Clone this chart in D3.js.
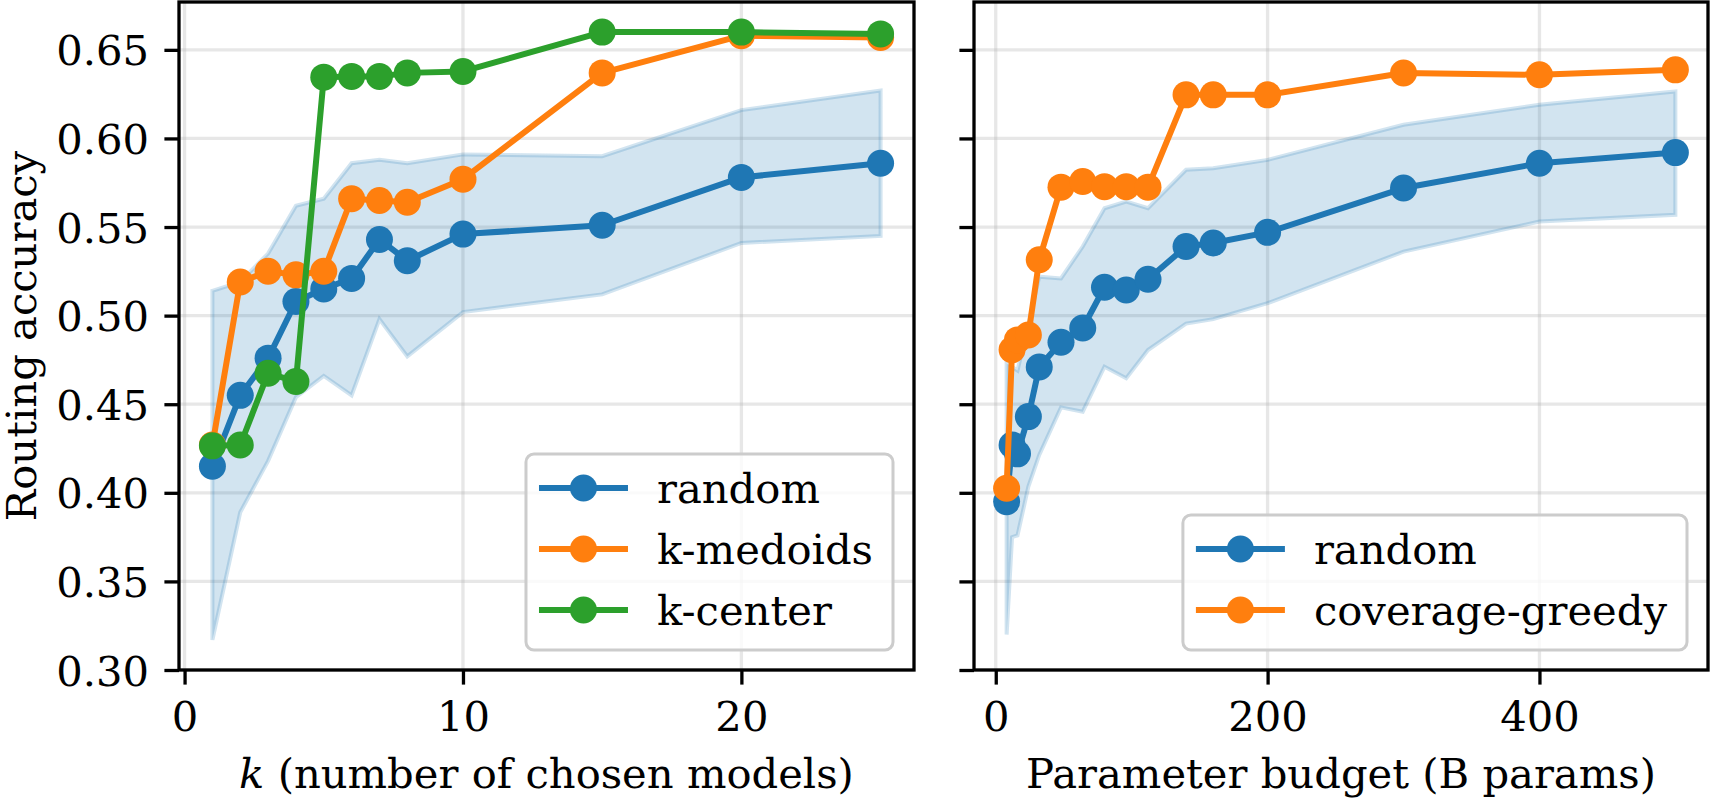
<!DOCTYPE html>
<html lang="en">
<head>
<meta charset="UTF-8">
<title>Routing accuracy</title>
<script src="https://d3js.org/d3.v7.min.js"></script>
<style>
  body { margin: 0; background: #fff; }
  svg { display: block; }
  text { font-family: "DejaVu Serif", serif; fill: #000; }
</style>
</head>
<body>
<svg id="chart" width="1711" height="798"></svg>
<script>
// ---- data ----
const kVals = [1, 2, 3, 4, 5, 6, 7, 8, 10, 15, 20, 25]
const kRandom = [0.415, 0.455, 0.476, 0.508, 0.515, 0.521, 0.543, 0.531, 0.546, 0.551, 0.578, 0.586]
const kRandomHi = [0.514, 0.519, 0.535, 0.562, 0.566, 0.586, 0.588, 0.586, 0.591, 0.590, 0.616, 0.627]
const kRandomLo = [0.317, 0.389, 0.418, 0.454, 0.466, 0.455, 0.498, 0.477, 0.502, 0.512, 0.541, 0.545]
const kMedoids = [0.427, 0.519, 0.525, 0.523, 0.525, 0.566, 0.565, 0.564, 0.577, 0.637, 0.658, 0.657]
const kCenter = [0.4265, 0.427, 0.4675, 0.4628, 0.6346, 0.635, 0.635, 0.637, 0.6378, 0.660, 0.660, 0.659]

const budgets = [8, 12, 16, 24, 32, 48, 64, 80, 96, 112, 140, 160, 200, 300, 400, 500]
const bRandom = [0.395, 0.427, 0.422, 0.443, 0.471, 0.485, 0.493, 0.516, 0.5145, 0.5205, 0.539, 0.541, 0.547, 0.572, 0.586, 0.592]
const bRandomHi = [0.473, 0.471, 0.469, 0.495, 0.522, 0.521, 0.539, 0.5606, 0.5644, 0.5606, 0.5823, 0.5832, 0.5879, 0.6077, 0.619, 0.6265]
const bRandomLo = [0.320, 0.375, 0.376, 0.4035, 0.4214, 0.4482, 0.4458, 0.4712, 0.4647, 0.4806, 0.4955, 0.498, 0.507, 0.5361, 0.5531, 0.5569]
const bGreedy = [0.4026, 0.4807, 0.4863, 0.4891, 0.5315, 0.5725, 0.5757, 0.5728, 0.5728, 0.5725, 0.6246, 0.6246, 0.6246, 0.6369, 0.6359, 0.6387]

const yTicks = [0.30, 0.35, 0.40, 0.45, 0.50, 0.55, 0.60, 0.65]
const kTicks = [0, 10, 20]
const bTicks = [0, 200, 400]

const BLUE = "#1f77b4", ORANGE = "#ff7f0e", GREEN = "#2ca02c"
const FS = 41.7

const svg = d3.select("#chart")
const plotTop = 2, plotBottom = 670

const y = d3.scaleLinear().domain([0.30, 0.677]).range([plotBottom, plotTop])

function panel(x0, x1, xDomain, xTicks, xLabel, band, series, showYLabels) {
    const x = d3.scaleLinear().domain(xDomain).range([x0, x1])
    const g = svg.append("g")

    // grid
    g.selectAll(".vgrid").data(xTicks).join("line")
        .attr("x1", d => x(d)).attr("x2", d => x(d))
        .attr("y1", plotTop).attr("y2", plotBottom)
        .attr("stroke", "#b0b0b0").attr("stroke-opacity", 0.3).attr("stroke-width", 3.3)
    g.selectAll(".hgrid").data(yTicks).join("line")
        .attr("x1", x0).attr("x2", x1)
        .attr("y1", d => y(d)).attr("y2", d => y(d))
        .attr("stroke", "#b0b0b0").attr("stroke-opacity", 0.3).attr("stroke-width", 3.3)

    // spread band for random
    const area = d3.area()
        .x(d => x(d.x)).y0(d => y(d.lo)).y1(d => y(d.hi))
    g.append("path")
        .datum(band.xs.map((v, i) => ({x: v, lo: band.lo[i], hi: band.hi[i]})))
        .attr("d", area)
        .attr("fill", BLUE).attr("fill-opacity", 0.2)
        .attr("stroke", BLUE).attr("stroke-opacity", 0.2).attr("stroke-width", 4)

    const line = d3.line().x(d => x(d[0])).y(d => y(d[1]))
    series.forEach(s => {
        const pts = s.xs.map((v, i) => [v, s.ys[i]])
        g.append("path").datum(pts).attr("d", line)
            .attr("fill", "none").attr("stroke", s.color).attr("stroke-width", 6)
            .attr("stroke-linejoin", "round")
        g.selectAll(null).data(pts).join("circle")
            .attr("cx", d => x(d[0])).attr("cy", d => y(d[1])).attr("r", 13.5)
            .attr("fill", s.color)
    })

    // axes
    const xa = g.append("g").attr("transform", `translate(0,${plotBottom})`)
        .call(d3.axisBottom(x).tickValues(xTicks).tickSize(14.6).tickPadding(16.8))
    const ya = g.append("g").attr("transform", `translate(${x0},0)`)
        .call(d3.axisLeft(y).tickValues(yTicks).tickSize(14.6).tickPadding(15.4)
            .tickFormat(showYLabels ? d3.format(".2f") : ""))
    ;[xa, ya].forEach(a => {
        a.select(".domain").remove()
        a.selectAll("line").attr("stroke", "#000").attr("stroke-width", 3.3)
        a.selectAll("text").attr("font-size", FS).attr("font-family", "DejaVu Serif").attr("fill", "#000")
    })
    ya.selectAll("text").attr("dy", "0.36em")

    // spines
    g.append("rect").attr("x", x0).attr("y", plotTop).attr("width", x1 - x0).attr("height", plotBottom - plotTop)
        .attr("fill", "none").attr("stroke", "#000").attr("stroke-width", 3.3)

    // x label
    const xl = g.append("text").attr("x", (x0 + x1) / 2).attr("y", 788)
        .attr("text-anchor", "middle").attr("font-size", FS)
    xLabel.forEach(p => xl.append("tspan").attr("font-style", p.italic ? "italic" : null).text(p.t))

    // legend, lower right
    const lg = g.append("g")
    const texts = series.map(s => lg.append("text").attr("font-size", FS).text(s.name))
    const tw = d3.max(texts, t => t.node().getComputedTextLength())
    const bw = 131 + tw + 20, bh = 74 + (series.length - 1) * 61
    const bx = x1 - 21 - bw, by = plotBottom - 20 - bh
    lg.insert("rect", "text").attr("x", bx).attr("y", by).attr("width", bw).attr("height", bh)
        .attr("rx", 8).attr("fill", "#fff").attr("fill-opacity", 0.8)
        .attr("stroke", "#cccccc").attr("stroke-width", 3)
    series.forEach((s, i) => {
        const cy = by + 34 + i * 61
        lg.append("line").attr("x1", bx + 13).attr("x2", bx + 102).attr("y1", cy).attr("y2", cy)
            .attr("stroke", s.color).attr("stroke-width", 6)
        lg.append("circle").attr("cx", bx + 57.5).attr("cy", cy).attr("r", 13.5).attr("fill", s.color)
        texts[i].attr("x", bx + 131).attr("y", cy).attr("dy", "0.36em").raise()
    })
    return g
}

panel(179, 914, [-0.2, 26.2], kTicks,
    [{t: "k", italic: true}, {t: " (number of chosen models)"}],
    {xs: kVals, lo: kRandomLo, hi: kRandomHi},
    [
        {name: "random", color: BLUE, xs: kVals, ys: kRandom},
        {name: "k-medoids", color: ORANGE, xs: kVals, ys: kMedoids},
        {name: "k-center", color: GREEN, xs: kVals, ys: kCenter}
    ], true)

panel(974, 1708, [-16, 524], bTicks,
    [{t: "Parameter budget (B params)"}],
    {xs: budgets, lo: bRandomLo, hi: bRandomHi},
    [
        {name: "random", color: BLUE, xs: budgets, ys: bRandom},
        {name: "coverage-greedy", color: ORANGE, xs: budgets, ys: bGreedy}
    ], false)

// y label
svg.append("text")
    .attr("transform", "translate(36,336) rotate(-90)")
    .attr("text-anchor", "middle").attr("font-size", FS)
    .text("Routing accuracy")
</script>
</body>
</html>
